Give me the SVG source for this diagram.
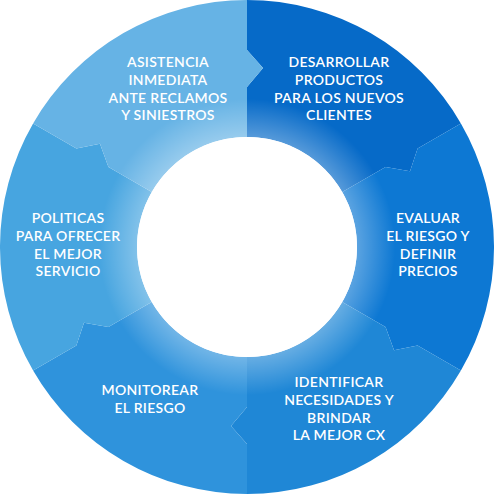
<svg xmlns="http://www.w3.org/2000/svg" width="494" height="494" viewBox="0 0 494 494">
<defs>
<radialGradient id="glow" gradientUnits="userSpaceOnUse" cx="247" cy="247" r="247">
<stop offset="0.445" stop-color="#ffffff" stop-opacity="0.32"/>
<stop offset="0.6" stop-color="#ffffff" stop-opacity="0"/>
<stop offset="1" stop-color="#ffffff" stop-opacity="0"/>
</radialGradient>
</defs>
<style>
.t{font-family:Lato,"Liberation Sans",sans-serif;font-size:14px;font-weight:600;letter-spacing:0.3px;fill:#ffffff;text-anchor:middle}
</style>
<rect width="494" height="494" fill="#ffffff"/>
<g id="seg-desarrollar">
<path d="M247,137 L247,87 L263,68 L247,50 L247,0 A247,247 0 0 1 460.91,123.5 L417.61,148.5 L410.02,171.36 L385.56,167 L342.26,192 A110,110 0 0 0 247,137 Z" fill="#066ac8"/>
<text class="t" x="339" y="67">DESARROLLAR</text>
<text class="t" x="339" y="85">PRODUCTOS</text>
<text class="t" x="339" y="103">PARA LOS NUEVOS</text>
<text class="t" x="339" y="120">CLIENTES</text>
</g>
<g id="seg-evaluar">
<path d="M342.26,192 L385.56,167 L410.02,171.36 L417.61,148.5 L460.91,123.5 A247,247 0 0 1 460.91,370.5 L417.61,345.5 L394.02,350.36 L385.56,327 L342.26,302 A110,110 0 0 0 342.26,192 Z" fill="#0d78d3"/>
<text class="t" x="428" y="223">EVALUAR</text>
<text class="t" x="428" y="241">EL RIESGO Y</text>
<text class="t" x="428" y="259">DEFINIR</text>
<text class="t" x="428" y="276">PRECIOS</text>
</g>
<g id="seg-identificar">
<path d="M342.26,302 L385.56,327 L394.02,350.36 L417.61,345.5 L460.91,370.5 A247,247 0 0 1 247,494 L247,444 L231,426 L247,407 L247,357 A110,110 0 0 0 342.26,302 Z" fill="#1f87d6"/>
<text class="t" x="339" y="387">IDENTIFICAR</text>
<text class="t" x="339" y="405">NECESIDADES Y</text>
<text class="t" x="339" y="423">BRINDAR</text>
<text class="t" x="339" y="440">LA MEJOR CX</text>
</g>
<g id="seg-monitorear">
<path d="M247,357 L247,407 L231,426 L247,444 L247,494 A247,247 0 0 1 33.09,370.5 L76.39,345.5 L83.98,322.64 L108.44,327 L151.74,302 A110,110 0 0 0 247,357 Z" fill="#2f93dc"/>
<text class="t" x="150" y="395">MONITOREAR</text>
<text class="t" x="150" y="413">EL RIESGO</text>
</g>
<g id="seg-politicas">
<path d="M151.74,302 L108.44,327 L83.98,322.64 L76.39,345.5 L33.09,370.5 A247,247 0 0 1 33.09,123.5 L76.39,148.5 L99.98,143.64 L108.44,167 L151.74,192 A110,110 0 0 0 151.74,302 Z" fill="#47a5e0"/>
<text class="t" x="68" y="223">POLITICAS</text>
<text class="t" x="68" y="241">PARA OFRECER</text>
<text class="t" x="68" y="259">EL MEJOR</text>
<text class="t" x="68" y="276">SERVICIO</text>
</g>
<g id="seg-asistencia">
<path d="M151.74,192 L108.44,167 L99.98,143.64 L76.39,148.5 L33.09,123.5 A247,247 0 0 1 247,0 L247,50 L263,68 L247,87 L247,137 A110,110 0 0 0 151.74,192 Z" fill="#66b3e5"/>
<text class="t" x="168" y="67">ASISTENCIA</text>
<text class="t" x="168" y="85">INMEDIATA</text>
<text class="t" x="168" y="103">ANTE RECLAMOS</text>
<text class="t" x="168" y="120">Y SINIESTROS</text>
</g>
<g id="connectors"/>
<circle cx="247" cy="247" r="247" fill="url(#glow)" pointer-events="none"/>
<circle cx="247" cy="247" r="110" fill="#ffffff"/>
</svg>
